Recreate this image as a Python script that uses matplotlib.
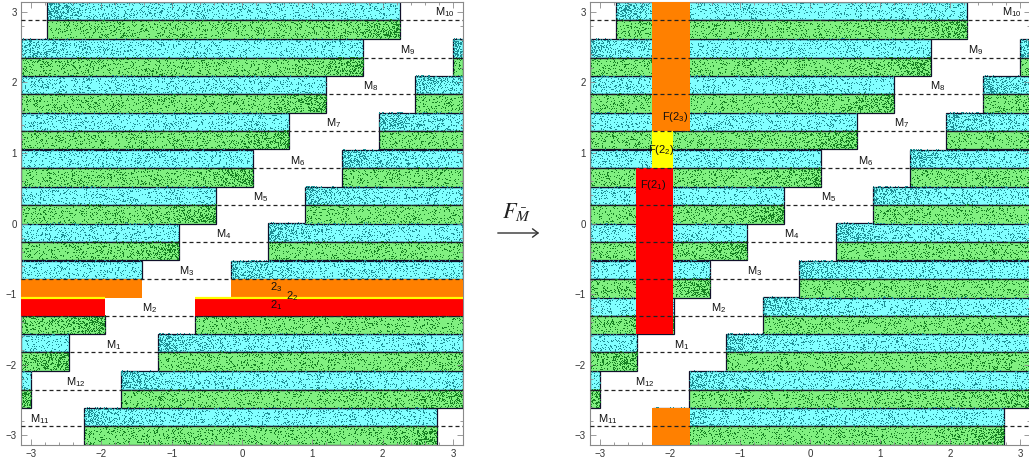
import numpy as np
import matplotlib
matplotlib.use("Agg")
import matplotlib.pyplot as plt
from matplotlib.patches import Rectangle, FancyArrowPatch
from matplotlib.ticker import MultipleLocator

plt.rcParams["font.family"] = ["Liberation Sans", "DejaVu Sans"]
plt.rcParams["mathtext.fontset"] = "stix"

PI = np.pi

# ---- strip layout (bottom to top) ----
row_names = ["11", "12", "1", "2", "3", "4", "5", "6", "7", "8", "9", "10"]
row_bottoms = [-3.14, -2.62, -2.09, -1.57, -1.05, -0.52, 0.00, 0.52, 1.05, 1.57, 2.09, 2.62]
row_height = 0.5236
gap_centers = [-2.88, -2.36, -1.83, -1.31, -0.79, -0.26, 0.26, 0.79, 1.31, 1.83, 2.36, 2.88]
gap_half = 0.636

# ---- coloured pieces of the set "2" before the map (row index, half) ----
left_pieces = {(3, "upper"): "#FF0000", (4, "lower"): "#FF8000"}
left_piece_labels = [("2", "3", 0.49, -0.90), ("2", "2", 0.71, -1.03), ("2", "1", 0.49, -1.16)]

# ---- images of the pieces after the map: (x0, x1, y0, y1, colour) ----
right_columns = [
    (-2.48, -1.95, -1.57, 0.785, "#FF0000"),
    (-2.26, -1.95, 0.785, 1.31, "#FFFF00"),
    (-2.26, -1.72, 1.31, 3.1416, "#FF8000"),
    (-2.26, -1.72, -3.1416, -2.62, "#FF8000"),
]
right_column_labels = [("F(2", "3", ")", -1.93, 1.51), ("F(2", "2", ")", -2.12, 1.04),
                       ("F(2", "1", ")", -2.24, 0.55)]

CYAN, CYAN_DOT = "#80FFFF", "#1E8E94"
GREEN, GREEN_DOT = "#80F080", "#157F22"

rng = np.random.default_rng(7)


def bar_segments(c):
    lo, hi = c - gap_half, c + gap_half
    if lo < -PI:
        return [(hi, lo + 2 * PI)]
    if hi > PI:
        return [(hi - 2 * PI, lo)]
    return [(-PI, lo), (hi, PI)]


def wrap(x):
    return (x + PI) % (2 * PI) - PI


def speckle(ax, c, y0, y1, colour, dense_at_start):
    start = c + gap_half
    length = 2 * PI - 2 * gap_half
    h = y1 - y0
    n_base = int(850 * length * h)
    u = rng.uniform(0, length, n_base)
    n_edge = int(2600 * 0.35 * h)
    e = rng.exponential(0.35, n_edge * 3)
    e = e[e < length][:n_edge]
    u = np.concatenate([u, e if dense_at_start else length - e])
    y = rng.uniform(y0, y1, u.size)
    ax.plot(wrap(start + u), y, ",", color=colour, zorder=2, rasterized=True)


def draw_rows(ax, pieces):
    for i, (yb, c) in enumerate(zip(row_bottoms, gap_centers)):
        ym = yb + row_height / 2
        yt = yb + row_height
        for (xa, xb) in bar_segments(c):
            for half, (ya, yc, base) in {"upper": (ym, yt, CYAN), "lower": (yb, ym, GREEN)}.items():
                col = pieces.get((i, half))
                if col is None:
                    ax.add_patch(Rectangle((xa, ya), xb - xa, yc - ya, facecolor=base,
                                           edgecolor="#10102a", lw=0.9, zorder=1))
                else:
                    ax.add_patch(Rectangle((xa, ya), xb - xa, yc - ya, facecolor=col,
                                           edgecolor="none", zorder=3))
        if (i, "upper") not in pieces:
            speckle(ax, c, ym, yt, CYAN_DOT, True)
        if (i, "lower") not in pieces:
            speckle(ax, c, yb, ym, GREEN_DOT, False)


def finish(ax):
    for yb, c, name in zip(row_bottoms, gap_centers, row_names):
        ym = yb + row_height / 2
        ax.axhline(ym, color="#222222", lw=0.9, dashes=(3.2, 2.4), zorder=5)
        ax.text(c, ym + 0.11, r"$\mathregular{M_{%s}}$" % name, fontsize=8,
                ha="center", va="center", color="#111111", zorder=6)
    ax.set_xlim(-PI, PI)
    ax.set_ylim(-PI, PI)
    ax.xaxis.set_major_locator(MultipleLocator(1))
    ax.yaxis.set_major_locator(MultipleLocator(1))
    ax.xaxis.set_minor_locator(MultipleLocator(0.2))
    ax.yaxis.set_minor_locator(MultipleLocator(0.2))
    ax.tick_params(which="both", direction="in", top=True, right=True,
                   color="#8a8a8a", width=0.6, labelsize=7, labelcolor="#333333", pad=3)
    ax.tick_params(which="major", length=4)
    ax.tick_params(which="minor", length=2)
    for s in ax.spines.values():
        s.set_color("#8a8a8a")
        s.set_linewidth(0.8)


fig = plt.figure(figsize=(10.29, 4.62), dpi=100)
axL = fig.add_axes([21 / 1029, 17 / 462, 442 / 1029, 443 / 462])
axR = fig.add_axes([590 / 1029, 17 / 462, 440 / 1029, 443 / 462])

# left panel
draw_rows(axL, left_pieces)
for (xa, xb) in bar_segments(gap_centers[3]):
    axL.plot([xa, xb], [row_bottoms[4], row_bottoms[4]], color="#FFFF00", lw=1.6, zorder=4,
             solid_capstyle="butt")
for base, sub, x, y in left_piece_labels:
    axL.text(x, y, r"$\mathregular{%s_{%s}}$" % (base, sub), fontsize=8,
             ha="center", va="center", color="#111111", zorder=6)
finish(axL)

# right panel
draw_rows(axR, {})
for (x0, x1, y0, y1, col) in right_columns:
    axR.add_patch(Rectangle((x0, y0), x1 - x0, y1 - y0, facecolor=col, edgecolor="none", zorder=4))
for a, sub, b, x, y in right_column_labels:
    axR.text(x, y, r"$\mathregular{%s_{%s}%s}$" % (a, sub, b), fontsize=8,
             ha="center", va="center", color="#111111", zorder=6)
finish(axR)

# map arrow between the panels
fig.patches.append(FancyArrowPatch(
    (495 / 1029, 1 - 233 / 462), (542 / 1029, 1 - 233 / 462), transform=fig.transFigure,
    arrowstyle="->,head_length=4,head_width=3", lw=1.0, color="#333333", mutation_scale=1))
fig.text(517 / 1029, 1 - 212 / 462, r"$F_{\bar{M}}$", fontsize=16, ha="center", va="center",
         color="#222222")

fig.savefig("out.png", dpi=100)
